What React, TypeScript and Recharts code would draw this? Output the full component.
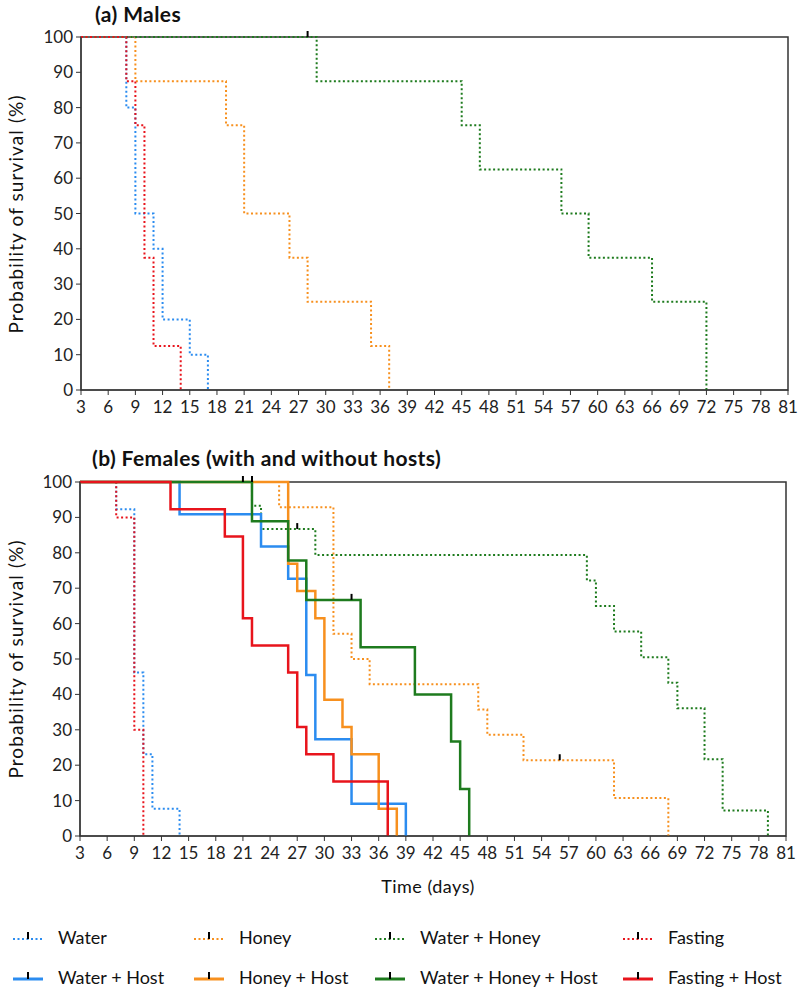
import React from "react";
import {
  ComposedChart,
  Line,
  XAxis,
  YAxis,
  ReferenceDot,
  ReferenceArea,
} from "recharts";

type Pt = { day: number; pct: number };

const FONT = "Lato, 'Open Sans', sans-serif";

const BLUE = "#2b8cf0";
const ORANGE = "#f7901e";
const GREEN = "#1e7b1e";
const RED = "#e8141c";

const dayTicks = [3, 6, 9, 12, 15, 18, 21, 24, 27, 30, 33, 36, 39, 42, 45, 48, 51, 54, 57, 60, 63, 66, 69, 72, 75, 78, 81];
const pctTicks = [0, 10, 20, 30, 40, 50, 60, 70, 80, 90, 100];

// (a) males
const maleWater: Pt[] = [
  { day: 3, pct: 100 }, { day: 8, pct: 80 }, { day: 9, pct: 50 }, { day: 11, pct: 40 },
  { day: 12, pct: 20 }, { day: 15, pct: 10 }, { day: 17, pct: 0 },
];
const maleHoney: Pt[] = [
  { day: 3, pct: 100 }, { day: 9, pct: 87.5 }, { day: 19, pct: 75 }, { day: 21, pct: 50 },
  { day: 26, pct: 37.5 }, { day: 28, pct: 25 }, { day: 35, pct: 12.5 }, { day: 37, pct: 0 },
];
const maleWaterHoney: Pt[] = [
  { day: 3, pct: 100 }, { day: 29, pct: 87.5 }, { day: 45, pct: 75 }, { day: 47, pct: 62.5 },
  { day: 56, pct: 50 }, { day: 59, pct: 37.5 }, { day: 66, pct: 25 }, { day: 72, pct: 0 },
];
const maleFasting: Pt[] = [
  { day: 3, pct: 100 }, { day: 8, pct: 87.5 }, { day: 9, pct: 75 }, { day: 10, pct: 37.5 },
  { day: 11, pct: 12.5 }, { day: 14, pct: 0 },
];
const maleCensored: Pt[] = [{ day: 28, pct: 100 }];

// (b) females
const femWater: Pt[] = [
  { day: 3, pct: 100 }, { day: 7, pct: 92.3 }, { day: 9, pct: 46.2 }, { day: 10, pct: 23.1 },
  { day: 11, pct: 7.7 }, { day: 14, pct: 0 },
];
const femHoney: Pt[] = [
  { day: 3, pct: 100 }, { day: 25, pct: 92.9 }, { day: 31, pct: 57.1 }, { day: 33, pct: 50 },
  { day: 35, pct: 42.9 }, { day: 47, pct: 35.7 }, { day: 48, pct: 28.6 }, { day: 52, pct: 21.4 },
  { day: 62, pct: 10.7 }, { day: 68, pct: 0 },
];
const femWaterHoney: Pt[] = [
  { day: 3, pct: 100 }, { day: 22, pct: 93.3 }, { day: 23, pct: 86.7 }, { day: 29, pct: 79.4 },
  { day: 59, pct: 72.2 }, { day: 60, pct: 65 }, { day: 62, pct: 57.8 }, { day: 65, pct: 50.5 },
  { day: 68, pct: 43.3 }, { day: 69, pct: 36.1 }, { day: 72, pct: 21.7 }, { day: 74, pct: 7.2 },
  { day: 79, pct: 0 },
];
const femFasting: Pt[] = [
  { day: 3, pct: 100 }, { day: 7, pct: 90 }, { day: 9, pct: 30 }, { day: 10, pct: 0 },
];
const femWaterHost: Pt[] = [
  { day: 3, pct: 100 }, { day: 14, pct: 90.9 }, { day: 23, pct: 81.8 }, { day: 26, pct: 72.7 },
  { day: 28, pct: 45.5 }, { day: 29, pct: 27.3 }, { day: 33, pct: 9.1 }, { day: 39, pct: 0 },
];
const femHoneyHost: Pt[] = [
  { day: 3, pct: 100 }, { day: 26, pct: 76.9 }, { day: 27, pct: 69.2 }, { day: 29, pct: 61.5 },
  { day: 30, pct: 38.5 }, { day: 32, pct: 30.8 }, { day: 33, pct: 23.1 }, { day: 36, pct: 7.7 },
  { day: 38, pct: 0 },
];
const femWaterHoneyHost: Pt[] = [
  { day: 3, pct: 100 }, { day: 22, pct: 88.9 }, { day: 26, pct: 77.8 }, { day: 28, pct: 66.7 },
  { day: 34, pct: 53.3 }, { day: 40, pct: 40 }, { day: 44, pct: 26.7 }, { day: 45, pct: 13.3 },
  { day: 46, pct: 0 },
];
const femFastingHost: Pt[] = [
  { day: 3, pct: 100 }, { day: 13, pct: 92.3 }, { day: 19, pct: 84.6 }, { day: 21, pct: 61.5 },
  { day: 22, pct: 53.8 }, { day: 26, pct: 46.2 }, { day: 27, pct: 30.8 }, { day: 28, pct: 23.1 },
  { day: 31, pct: 15.4 }, { day: 37, pct: 0 },
];
const femCensored: Pt[] = [
  { day: 21, pct: 100 }, { day: 22, pct: 100 }, { day: 27, pct: 86.7 },
  { day: 33, pct: 66.7 }, { day: 56, pct: 21.4 },
];

const legendItems = [
  { name: "Water", color: BLUE, dotted: true },
  { name: "Honey", color: ORANGE, dotted: true },
  { name: "Water + Honey", color: GREEN, dotted: true },
  { name: "Fasting", color: RED, dotted: true },
  { name: "Water + Host", color: BLUE, dotted: false },
  { name: "Honey + Host", color: ORANGE, dotted: false },
  { name: "Water + Honey + Host", color: GREEN, dotted: false },
  { name: "Fasting + Host", color: RED, dotted: false },
];

type Series = { data: Pt[]; color: string; dotted: boolean };

const tickStyle = { fontSize: 17, fill: "#222", fontFamily: FONT };

const CensorMark = (props: any) => {
  const { cx, cy } = props;
  if (cx == null || cy == null) return null;
  return <line x1={cx} y1={cy} x2={cx} y2={cy - 6} stroke="#000" strokeWidth={2} />;
};

function SurvivalPanel({
  series,
  censored,
  height,
  top,
  left,
  plotWidth,
}: {
  series: Series[];
  censored: Pt[];
  height: number;
  top: number;
  left: number;
  plotWidth: number;
}) {
  return (
    <ComposedChart
      width={800}
      height={height}
      margin={{ top, right: 800 - left - 61 - plotWidth, bottom: 0, left }}
      style={{ fontFamily: FONT }}
    >
      <ReferenceArea
        x1={3}
        x2={81}
        y1={0}
        y2={100}
        fill="none"
        stroke="#333"
        strokeWidth={1.5}
        ifOverflow="visible"
        zIndex={-1}
      />
      <XAxis
        type="number"
        dataKey="day"
        domain={[3, 81]}
        ticks={dayTicks}
        interval={0}
        allowDataOverflow
        tickSize={5}
        tickMargin={6}
        height={40}
        stroke="#333"
        tick={tickStyle}
      />
      <YAxis
        type="number"
        domain={[0, 100]}
        ticks={pctTicks}
        interval={0}
        tickSize={5}
        tickMargin={3}
        width={61}
        stroke="#333"
        tick={tickStyle}
      />
      {series.map((s, i) => (
        <Line
          key={i}
          data={s.data}
          dataKey="pct"
          type="stepAfter"
          stroke={s.color}
          strokeWidth={s.dotted ? 2 : 2.5}
          strokeDasharray={s.dotted ? "2 2.5" : undefined}
          dot={false}
          activeDot={false}
          isAnimationActive={false}
        />
      ))}
      {censored.map((c, i) => (
        <ReferenceDot key={"c" + i} x={c.day} y={c.pct} shape={CensorMark} ifOverflow="visible" />
      ))}
    </ComposedChart>
  );
}

function LegendIcon({ color, dotted }: { color: string; dotted: boolean }) {
  return (
    <svg width={32} height={14} style={{ display: "block" }}>
      <line
        x1={1}
        y1={9}
        x2={31}
        y2={9}
        stroke={color}
        strokeWidth={dotted ? 2 : 3}
        strokeDasharray={dotted ? "2 2.5" : undefined}
      />
      <line x1={16} y1={9} x2={16} y2={2} stroke="#000" strokeWidth={2} />
    </svg>
  );
}

const yLabelStyle: React.CSSProperties = {
  position: "absolute",
  left: 15,
  fontSize: 19,
  letterSpacing: 1.1,
  whiteSpace: "nowrap",
  transform: "translate(-50%, -50%) rotate(-90deg)",
};

export default function App() {
  const maleSeries: Series[] = [
    { data: maleWater, color: BLUE, dotted: true },
    { data: maleHoney, color: ORANGE, dotted: true },
    { data: maleWaterHoney, color: GREEN, dotted: true },
    { data: maleFasting, color: RED, dotted: true },
  ];
  const femSeries: Series[] = [
    { data: femWater, color: BLUE, dotted: true },
    { data: femHoney, color: ORANGE, dotted: true },
    { data: femWaterHoney, color: GREEN, dotted: true },
    { data: femFasting, color: RED, dotted: true },
    { data: femWaterHost, color: BLUE, dotted: false },
    { data: femHoneyHost, color: ORANGE, dotted: false },
    { data: femWaterHoneyHost, color: GREEN, dotted: false },
    { data: femFastingHost, color: RED, dotted: false },
  ];
  const legendCols = [12, 193, 374, 622];

  return (
    <div
      style={{
        position: "absolute",
        left: 0,
        top: 0,
        width: 800,
        height: 992,
        background: "#fff",
        fontFamily: FONT,
        color: "#111",
      }}
    >
      <div style={{ position: "absolute", left: 0, top: 0 }}>
        <SurvivalPanel series={maleSeries} censored={maleCensored} height={430} top={37} left={20} plotWidth={707} />
      </div>
      <div style={{ position: "absolute", left: 0, top: 440 }}>
        <SurvivalPanel series={femSeries} censored={femCensored} height={436} top={42} left={19} plotWidth={706} />
      </div>

      <div style={{ position: "absolute", left: 95, top: 1, fontSize: 21, fontWeight: 700, letterSpacing: 0.4 }}>
        (a) Males
      </div>
      <div style={{ ...yLabelStyle, top: 214 }}>Probability of survival (%)</div>

      <div style={{ position: "absolute", left: 92, top: 445, fontSize: 21, fontWeight: 700, letterSpacing: 0.4 }}>
        (b) Females (with and without hosts)
      </div>
      <div style={{ ...yLabelStyle, top: 659 }}>Probability of survival (%)</div>

      <div
        style={{
          position: "absolute",
          left: 428,
          top: 886,
          fontSize: 18,
          letterSpacing: 0.5,
          transform: "translate(-50%, -50%)",
          whiteSpace: "nowrap",
        }}
      >
        Time (days)
      </div>

      {legendItems.map((it, i) => (
        <div
          key={it.name}
          style={{
            position: "absolute",
            left: legendCols[i % 4],
            top: i < 4 ? 926 : 966,
            display: "flex",
            alignItems: "center",
            gap: 14,
            fontSize: 18,
            whiteSpace: "nowrap",
          }}
        >
          <LegendIcon color={it.color} dotted={it.dotted} />
          <span>{it.name}</span>
        </div>
      ))}
    </div>
  );
}
